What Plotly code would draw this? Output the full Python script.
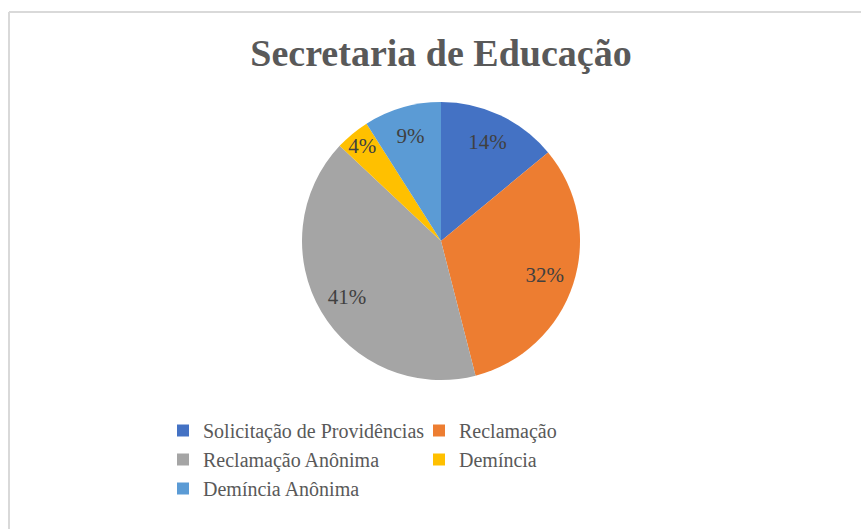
import plotly.graph_objects as go

categories = ["Solicitação de Providências", "Reclamação", "Reclamação Anônima", "Demíncia", "Demíncia Anônima"]
values = [14, 32, 41, 4, 9]
colors = ["#4472C4", "#ED7D31", "#A5A5A5", "#FFC000", "#5B9BD5"]

W, H = 861, 529
ML, MR = 130, 130
PW = W - ML - MR
cx, cy, r = 441, 241, 139

dom = dict(x=[(cx - r - ML) / PW, (cx + r - ML) / PW], y=[1 - (cy + r) / H, 1 - (cy - r) / H])

fig = go.Figure()
# the pie itself
fig.add_trace(go.Pie(
    labels=categories,
    values=values,
    sort=False,
    direction="clockwise",
    rotation=0,
    marker=dict(colors=colors, line=dict(width=0)),
    textinfo="none",
    domain=dom,
    hoverinfo="label+percent",
))
# percentage labels, placed in the outer ring like the original
fig.add_trace(go.Pie(
    labels=categories,
    values=values,
    sort=False,
    direction="clockwise",
    rotation=0,
    hole=0.57,
    marker=dict(colors=["rgba(0,0,0,0)"] * len(values), line=dict(width=0)),
    textinfo="percent",
    textposition="inside",
    insidetextorientation="horizontal",
    textfont=dict(family="Liberation Serif", size=21, color="#404040"),
    domain=dom,
    hoverinfo="skip",
    showlegend=False,
))

fig.update_layout(
    width=W, height=H,
    margin=dict(l=ML, r=MR, t=0, b=0),
    paper_bgcolor="white",
    font=dict(family="Liberation Serif", color="#595959"),
    title=dict(text="<b>Secretaria de Educação</b>", x=441 / W, xanchor="center",
               y=1 - 53 / H, yanchor="middle",
               font=dict(family="Liberation Serif", size=38, color="#595959")),
    uniformtext=dict(minsize=21, mode="show"),
    showlegend=True,
    legend=dict(orientation="h", x=(163 - ML) / PW, xanchor="left", y=1 - 411 / H, yanchor="top",
                entrywidth=211, entrywidthmode="pixels",
                font=dict(family="Liberation Serif", size=20, color="#595959"),
                bgcolor="rgba(0,0,0,0)"),
    shapes=[
        dict(type="line", xref="paper", yref="paper", x0=(9 - ML) / PW, x1=(W - ML) / PW,
             y0=1 - 12 / H, y1=1 - 12 / H, line=dict(color="#D9D9D9", width=2)),
        dict(type="line", xref="paper", yref="paper", x0=(9 - ML) / PW, x1=(9 - ML) / PW,
             y0=0, y1=1 - 12 / H, line=dict(color="#D9D9D9", width=2)),
    ],
)

fig.write_html("out.html", config={"displayModeBar": False},
               post_script="document.body.style.margin='0px';")
